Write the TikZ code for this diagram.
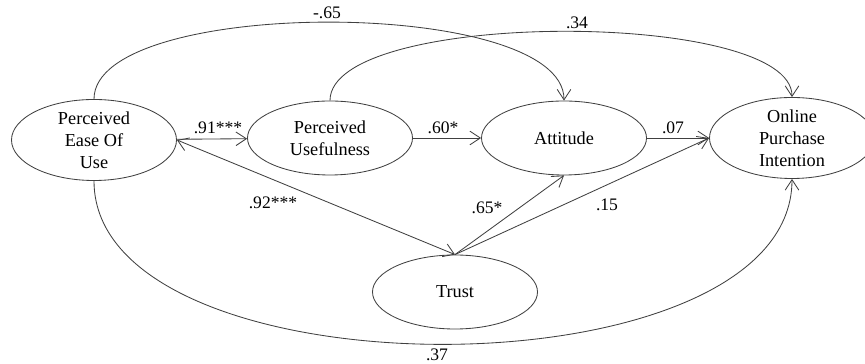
\documentclass[tikz,border=0pt]{standalone}
\usepackage{fontspec}
\setmainfont{Liberation Serif}
\usetikzlibrary{arrows.meta,shapes.geometric}

\tikzset{
    constructo/.style={draw=black!75, line width=0.6pt, ellipse, minimum width=4.125cm, minimum height=1.85cm, inner sep=0pt, align=center, font=\fontsize{13}{15.8}\selectfont},
    flecha/.style={draw=black!75, line width=0.6pt, -{Straight Barb[length=2.6mm,width=3.4mm]}},
    coef/.style={font=\fontsize{12.5}{14}\selectfont, inner sep=1pt}
}

\begin{document}
\begin{tikzpicture}

    \useasboundingbox (0,0) rectangle (21.625,9.1);

    % constructos
    \node[constructo] (peou) at (2.35,5.6) {Perceived\\Ease Of\\Use};
    \node[constructo] (pu) at (8.25,5.65) {Perceived\\Usefulness};
    \node[constructo] (att) at (14.1,5.65) {Attitude};
    \node[constructo] (opi) at (19.8,5.65) {Online\\Purchase\\Intention};
    \node[constructo] (trust) at (11.375,1.8) {Trust};

    % caminos directos
    \draw[flecha] (peou) -- (pu);
    \draw[flecha] (pu) -- (att);
    \draw[flecha] (att) -- (opi);

    % confianza
    \draw[flecha, {Straight Barb[length=2.6mm,width=3.4mm]}-{Straight Barb[length=2.6mm,width=3.4mm]}] (peou.east) -- (trust.north);
    \draw[flecha] (trust.north) -- (att.south);
    \draw[flecha] (trust.north) -- (opi.west);

    % curvas
    \draw[flecha] (peou.north) .. controls (2.35,9.19) and (14.1,9.19) .. (att.north);
    \draw[flecha] (pu.north) .. controls (8.25,8.875) and (19.8,8.875) .. (opi.north);
    \draw[flecha] (peou.south) .. controls (2.35,-0.875) and (19.8,-0.875) .. (opi.south);

    % coeficientes
    \node[coef] (c91) at (5.45,5.9) {.91***};
    \node[coef] (c60) at (11.075,5.9) {.60*};
    \node[coef] (c07) at (16.825,5.9) {.07};
    \node[coef] (c92) at (6.825,4.025) {.92***};
    \node[coef] (c65b) at (12.175,3.9) {.65*};
    \node[coef] (c15) at (15.175,3.975) {.15};
    \node[coef] (c65a) at (8.175,8.775) {-.65};
    \node[coef] (c34) at (14.425,8.525) {.34};
    \node[coef] (c37) at (10.925,0.24) {.37};

\end{tikzpicture}
\end{document}
